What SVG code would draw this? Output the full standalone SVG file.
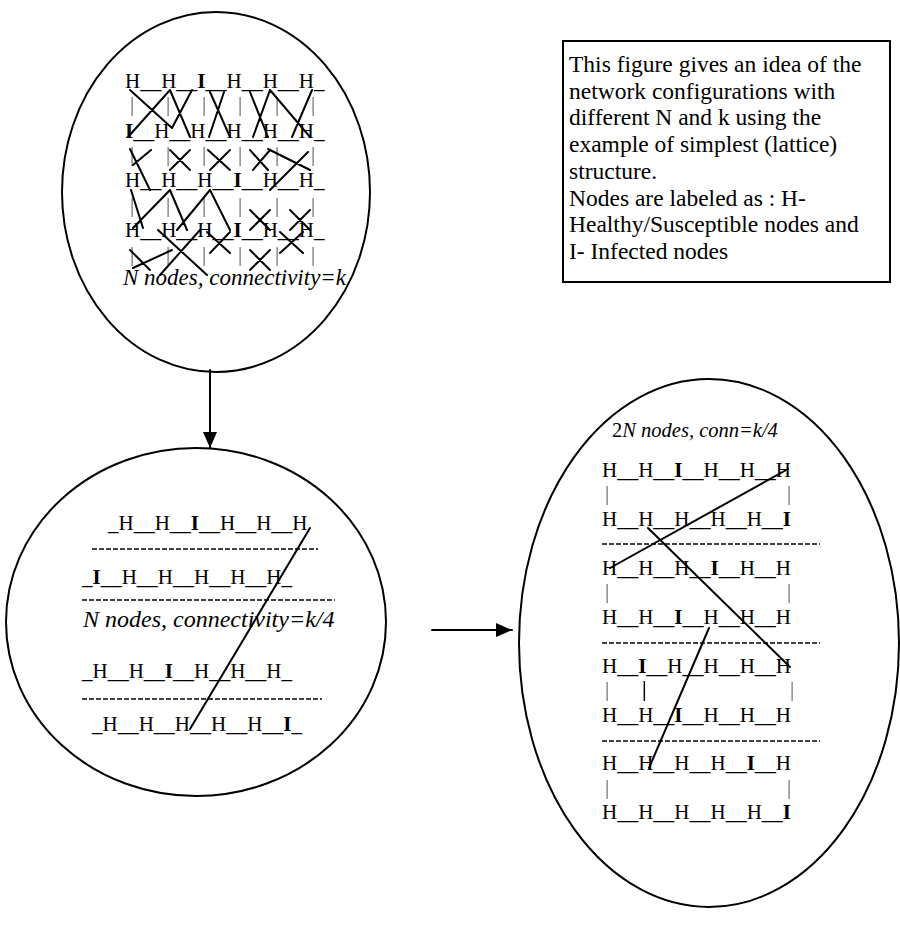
<svg xmlns="http://www.w3.org/2000/svg" width="900" height="927" viewBox="0 0 900 927">
<defs>
<marker id="ah" viewBox="0 0 16 14" refX="16" refY="7" markerWidth="16" markerHeight="14" markerUnits="userSpaceOnUse" orient="auto">
<path d="M0,0 L16,7 L0,14 z" fill="#000"/>
</marker>
<filter id="gs" x="-50%" y="-10%" width="200%" height="120%">
<feColorMatrix type="saturate" values="0"/>
</filter>
</defs>
<style>
.t{font-family:"Liberation Serif","Times New Roman",serif;font-size:21px;fill:#000}
.b{font-weight:bold}
.i{font-style:italic}
.p{fill:#606060}
.ln{stroke:#000;stroke-width:2;fill:none;stroke-linecap:round}
.dash{stroke:#000;stroke-width:1.5;stroke-dasharray:5 2}
.shape{fill:#fff;stroke:#000;stroke-width:2}
.box{font-family:"Liberation Serif","Times New Roman",serif;font-size:23.5px;fill:#000}
</style>
<rect width="900" height="927" fill="#fff"/>

<g id="top-network">
<ellipse class="shape" cx="216" cy="192" rx="154" ry="180"/>
<text class="t" x="125" y="88">H__H__<tspan class="b">I</tspan>__H__H__H_</text>
<g filter="url(#gs)">
<text class="t p" x="130 166 202 238 275 311" y="111">||||||</text>
<text class="t p" x="130 166 202 238 275 311" y="161">||||||</text>
<text class="t p" x="130 166 202 238 275 311" y="212">||||||</text>
<text class="t p" x="130 166 202 238 275 311" y="261">||||||</text>
</g>
<text class="t" x="125" y="138"><tspan class="b">I</tspan>__H__H__H__H__H_</text>
<text class="t" x="125" y="187">H__H__H__<tspan class="b">I</tspan>__H__H_</text>
<text class="t" x="125" y="237">H__H__H__<tspan class="b">I</tspan>__H__H_</text>
<text class="t i" x="123" y="285" style="font-size:23px">N nodes, connectivity=k</text>
<path class="ln" d="M130,90 L172,128 M170,90 L128,137 M170,90 L190,137 M192,90 L172,128 M210,92 L230,137 M224,92 L209,137 M250,92 L268,137 M270,90 L253,137 M270,90 L310,137 M312,90 L292,137"/>
<path class="ln" d="M130,149 L150,190 M151,150 L133,165 M170,150 L190,170 M190,150 L170,170 M208,150 L230,170 M230,150 L210,170 M250,150 L268,170 M270,150 L253,170 M268,149 L310,170 M270,190 L308,152"/>
<path class="ln" d="M131,190 L143,228 M170,190 L133,228 M170,190 L187,230 M210,190 L177,230 M210,190 L230,230 M250,210 L270,230 M270,210 L250,230 M290,210 L310,230 M310,210 L290,230"/>
<path class="ln" d="M130,250 L150,270 M172,250 L133,268 M158,230 L207,275 M200,230 L160,275 M207,232 L230,253 M230,232 L210,253 M250,250 L270,270 M270,250 L250,270 M280,232 L303,253 M303,232 L280,253"/>
</g>

<g id="bottom-left-network">
<ellipse class="shape" cx="196" cy="622" rx="190" ry="174"/>
<text class="t" x="108" y="530">_H__H__<tspan class="b">I</tspan>__H__H__H</text>
<line class="dash" x1="92" y1="549" x2="318" y2="549"/>
<text class="t" x="82" y="584">_<tspan class="b">I</tspan>__H__H__H__H__H_</text>
<line class="dash" x1="82" y1="600" x2="335" y2="600"/>
<text class="t i" x="83" y="627" style="font-size:24px">N nodes, connectivity=k/4</text>
<text class="t" x="82" y="678">_H__H__<tspan class="b">I</tspan>__H__H__H_</text>
<line class="dash" x1="82" y1="699" x2="322" y2="699"/>
<text class="t" x="92" y="731">_H__H__H__H__H__<tspan class="b">I</tspan>_</text>
<path class="ln" d="M310,528 L190,729"/>
</g>

<g id="right-network">
<ellipse class="shape" cx="709" cy="643" rx="190" ry="264"/>
<text class="t i" x="612" y="437" style="font-size:20.5px"><tspan style="font-style:normal">2</tspan>N nodes, conn=k/4</text>
<text class="t" x="602" y="477">H__H__<tspan class="b">I</tspan>__H__H__H</text>
<text class="t" x="602" y="526">H__H__H__H__H__<tspan class="b">I</tspan></text>
<line class="dash" x1="602" y1="544" x2="820" y2="544"/>
<text class="t" x="602" y="575">H__H__H__<tspan class="b">I</tspan>__H__H</text>
<text class="t" x="602" y="624">H__H__<tspan class="b">I</tspan>__H__H__H</text>
<line class="dash" x1="602" y1="643" x2="820" y2="643"/>
<text class="t" x="602" y="673">H__<tspan class="b">I</tspan>__H__H__H__H</text>
<text class="t" x="602" y="722">H__H__<tspan class="b">I</tspan>__H__H__H</text>
<line class="dash" x1="602" y1="741" x2="820" y2="741"/>
<text class="t" x="602" y="770">H__H__H__H__<tspan class="b">I</tspan>__H</text>
<text class="t" x="602" y="819">H__H__H__H__H__<tspan class="b">I</tspan></text>
<g filter="url(#gs)">
<text class="t p" x="605" y="500">|</text>
<text class="t p" x="787" y="500">|</text>
<text class="t p" x="605" y="598">|</text>
<text class="t p" x="787" y="598">|</text>
<text class="t p" x="605" y="696">|</text>
<text class="t b" x="642" y="696">|</text>
<text class="t p" x="790" y="696">|</text>
<text class="t p" x="605" y="794">|</text>
<text class="t p" x="787" y="794">|</text>
</g>
<path class="ln" d="M788,469 L610,568 M648,528 L790,667 M709,628 L649,768"/>
</g>

<g id="legend-box">
<rect x="563" y="41" width="327" height="241" fill="#fff" stroke="#000" stroke-width="2"/>
<text class="box" x="569" y="72">This figure gives an idea of the</text>
<text class="box" x="569" y="98.7">network configurations with</text>
<text class="box" x="569" y="125.4">different N and k using the</text>
<text class="box" x="569" y="152.1">example of simplest (lattice)</text>
<text class="box" x="569" y="178.8">structure.</text>
<text class="box" x="569" y="205.5">Nodes are labeled as : H-</text>
<text class="box" x="569" y="232.2">Healthy/Susceptible nodes and</text>
<text class="box" x="569" y="258.9">I- Infected nodes</text>
</g>

<g id="connectors">
<line class="ln" x1="210" y1="370" x2="210" y2="448" marker-end="url(#ah)"/>
<line class="ln" x1="432" y1="630" x2="512" y2="630" marker-end="url(#ah)"/>
</g>
</svg>
